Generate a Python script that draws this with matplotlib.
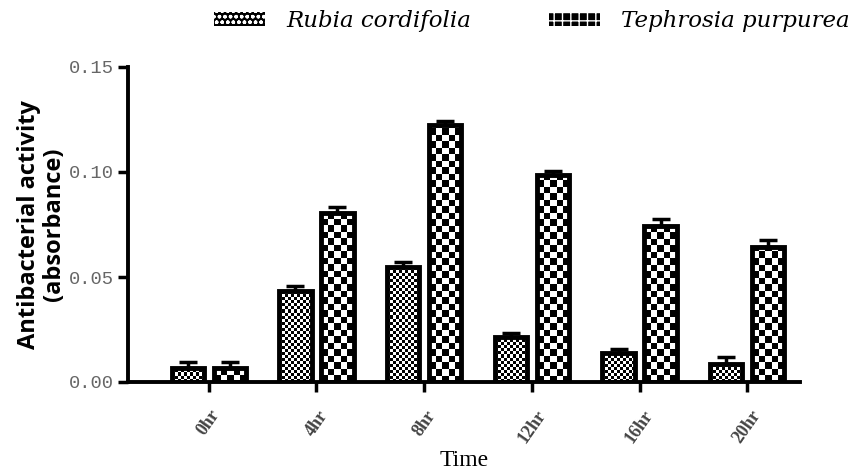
import numpy as np
import matplotlib
matplotlib.use("Agg")
import matplotlib.pyplot as plt
from matplotlib.patches import Patch

categories = ["0hr", "4hr", "8hr", "12hr", "16hr", "20hr"]
rubia = [0.0067, 0.0435, 0.0548, 0.0215, 0.0138, 0.0088]
rubia_err = [0.003, 0.002, 0.0025, 0.002, 0.002, 0.003]
teph = [0.0067, 0.0805, 0.1222, 0.0985, 0.0745, 0.0645]
teph_err = [0.003, 0.003, 0.002, 0.002, 0.003, 0.003]
series_names = ["Rubia cordifolia", "Tephrosia purpurea"]
yticks = [0.00, 0.05, 0.10, 0.15]

W, H, DPI = 863, 470, 100
fig = plt.figure(figsize=(W / DPI, H / DPI), dpi=DPI)
ax = fig.add_axes([128 / W, (H - 382) / H, (800 - 128) / W, (382 - 67) / H])

x = np.arange(len(categories))
bw = 0.30
off = 0.195

ax.set_xlim(-0.75, len(categories) - 1 + 0.49)
ax.set_ylim(0, 0.15)

fig.canvas.draw()


def add_checker(patch, cell_px):
    # checkerboard image clipped to the bar patch
    bx0, by0 = patch.get_x(), patch.get_y()
    bw_, bh_ = patch.get_width(), patch.get_height()
    p0 = ax.transData.transform((bx0, by0))
    p1 = ax.transData.transform((bx0 + bw_, by0 + bh_))
    wpx, hpx = p1[0] - p0[0], p1[1] - p0[1]
    nc = max(1, int(np.ceil(wpx / cell_px)))
    nr = max(1, int(np.ceil(hpx / cell_px)))
    ii, jj = np.indices((nr, nc))
    arr = ((ii + jj) % 2).astype(float)
    ux = bw_ / wpx * cell_px
    uy = bh_ / hpx * cell_px if hpx > 0 else 0
    extra = nc * ux - bw_
    xs = bx0 - extra / 2
    im = ax.imshow(arr, cmap="gray", vmin=0, vmax=1, interpolation="nearest",
                   extent=(xs, xs + nc * ux, by0, by0 + nr * uy),
                   origin="lower", aspect="auto", zorder=2)
    im.set_clip_path(patch)


b1 = ax.bar(x - off, rubia, bw, facecolor="none", edgecolor="black",
            linewidth=3.5, zorder=4)
b2 = ax.bar(x + off, teph, bw, facecolor="none", edgecolor="black",
            linewidth=3.5, zorder=4)
for p in b1:
    add_checker(p, 3.0)
for p in b2:
    add_checker(p, 6.5)

ax.errorbar(x - off, rubia, yerr=[np.zeros(len(rubia)), rubia_err], fmt="none",
            ecolor="black", elinewidth=2.5, capsize=6.5, capthick=2.5, zorder=5)
ax.errorbar(x + off, teph, yerr=[np.zeros(len(teph)), teph_err], fmt="none",
            ecolor="black", elinewidth=2.5, capsize=6.5, capthick=2.5, zorder=5)

ax.set_xlim(-0.75, len(categories) - 1 + 0.49)
ax.set_ylim(0, 0.15)

for s in ["top", "right"]:
    ax.spines[s].set_visible(False)
for s in ["left", "bottom"]:
    ax.spines[s].set_linewidth(2.8)

ax.set_yticks(yticks)
ax.set_yticklabels([f"{v:.2f}" for v in yticks], family="Liberation Mono",
                   fontsize=13.5, color="#666666")
ax.set_xticks(x)
ax.set_xticklabels(categories, family="Liberation Serif", fontsize=13,
                   rotation=55, ha="center", fontweight="bold", color="#444444")
ax.tick_params(axis="both", direction="out", length=7, width=2.5)
ax.tick_params(axis="x", pad=11)
ax.tick_params(axis="y", pad=3)

ax.set_xlabel("Time", family="Liberation Serif", fontsize=17, labelpad=3)
ax.set_ylabel("Antibacterial activity\n(absorbance)", family="Open Sans",
              fontweight="bold", fontsize=17, labelpad=2, linespacing=1.05)

handles = [Patch(facecolor="black", edgecolor="white", hatch="ooo", linewidth=0),
           Patch(facecolor="black", edgecolor="white", hatch="++", linewidth=0)]
fig.legend(handles, series_names, loc="center", bbox_to_anchor=(532 / W, 1 - 21 / H),
           ncol=2, frameon=False, handlelength=2.2, handleheight=0.57,
           columnspacing=3.4, handletextpad=0.95,
           prop={"family": "DejaVu Serif", "style": "italic", "size": 16.5})

fig.savefig("out.png", dpi=DPI)
